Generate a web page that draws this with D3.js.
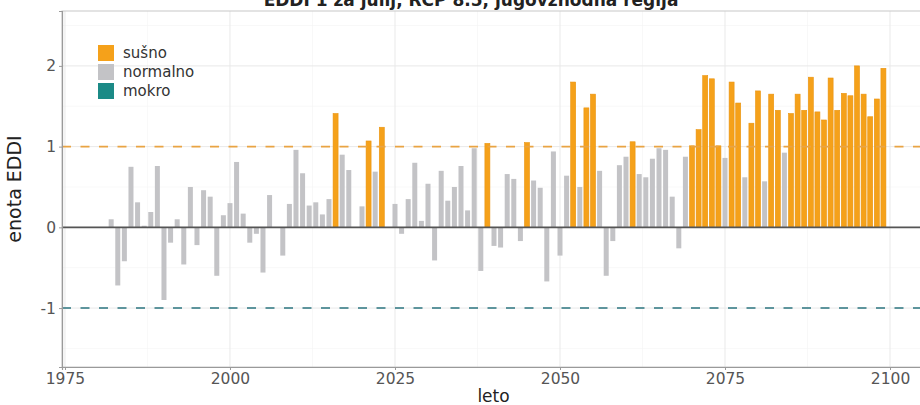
<!DOCTYPE html>
<html>
<head>
<meta charset="utf-8">
<script src="https://cdn.jsdelivr.net/npm/d3@7"></script>
<style>
  html, body { margin: 0; padding: 0; background: #fff; }
  svg { display: block; }
  text { font-family: "DejaVu Sans", sans-serif; }
</style>
</head>
<body>
<svg id="chart" width="920" height="405"></svg>
<script>
// EDDI values for July, one per year
const firstYear = 1982;
const lastYear = 2099;
const years = d3.range(firstYear, lastYear + 1);
const eddi = [
  0.10, -0.72, -0.42, 0.75, 0.31, 0.02, 0.19, 0.76, -0.90, -0.19,   // 1982-1991
  0.10, -0.46, 0.50, -0.22, 0.46, 0.38, -0.60, 0.15, 0.30, 0.81,    // 1992-2001
  0.17, -0.19, -0.08, -0.56, 0.40, 0.00, -0.35, 0.29, 0.96, 0.67,   // 2002-2011
  0.27, 0.31, 0.16, 0.35, 1.41, 0.90, 0.71, 0.00, 0.26, 1.07,       // 2012-2021
  0.69, 1.24, 0.00, 0.29, -0.08, 0.35, 0.80, 0.08, 0.54, -0.41,     // 2022-2031
  0.70, 0.33, 0.50, 0.76, 0.21, 0.98, -0.54, 1.04, -0.23, -0.25,    // 2032-2041
  0.66, 0.60, -0.17, 1.05, 0.58, 0.49, -0.67, 0.94, -0.35, 0.64,    // 2042-2051
  1.80, 0.50, 1.48, 1.65, 0.70, -0.60, -0.17, 0.77, 0.875, 1.06,    // 2052-2061
  0.66, 0.62, 0.85, 0.98, 0.96, 0.38, -0.26, 0.875, 1.01, 1.21,     // 2062-2071
  1.88, 1.84, 1.01, 0.86, 1.80, 1.54, 0.62, 1.29, 1.69, 0.57,       // 2072-2081
  1.65, 1.45, 0.925, 1.41, 1.65, 1.45, 1.86, 1.43, 1.33, 1.85,      // 2082-2091
  1.45, 1.66, 1.63, 2.00, 1.65, 1.37, 1.59, 1.97                    // 2092-2099
];

const classNames = ["sušno", "normalno", "mokro"];
const classColors = ["#f5a11a", "#c3c3c6", "#1b8a86"];
const thresholds = [1, -1];
const xTicks = [1975, 2000, 2025, 2050, 2075, 2100];
const yTicks = [-1, 0, 1, 2];

const titleText = "EDDI 1 za julij, RCP 8.5, jugovzhodna regija";
const xTitle = "leto";
const yTitle = "enota EDDI";

function classify(v) {
  if (v >= thresholds[0]) return classNames[0];
  if (v <= thresholds[1]) return classNames[2];
  return classNames[1];
}

const data = years.map((y, i) => ({ year: y, value: eddi[i], cls: classify(eddi[i]) }));

const svg = d3.select("#chart");
const panel = { left: 62, top: 11, right: 925, bottom: 367 };

const x = d3.scaleLinear().domain([1974.55, 2105.3]).range([panel.left, panel.right]);
const y = d3.scaleLinear().domain([-1.73, 2.68]).range([panel.bottom, panel.top]);
const color = d3.scaleOrdinal().domain(classNames).range(classColors);

// Title, sitting against the top edge
svg.append("text")
  .attr("x", 471).attr("y", 6)
  .attr("text-anchor", "middle")
  .attr("font-size", 17).attr("font-weight", "bold")
  .attr("fill", "#222")
  .text(titleText);

const g = svg.append("g");

// Grid lines: minor then major
const xMinor = [1987.5, 2012.5, 2037.5, 2062.5, 2087.5];
const yMinor = [-1.5, -0.5, 0.5, 1.5, 2.5];
g.selectAll("line.xminor").data(xMinor).join("line")
  .attr("x1", d => x(d)).attr("x2", d => x(d))
  .attr("y1", panel.top).attr("y2", panel.bottom)
  .attr("stroke", "#f3f3f3").attr("stroke-width", 0.6);
g.selectAll("line.yminor").data(yMinor).join("line")
  .attr("x1", panel.left).attr("x2", panel.right)
  .attr("y1", d => y(d)).attr("y2", d => y(d))
  .attr("stroke", "#f3f3f3").attr("stroke-width", 0.6);
g.selectAll("line.xmajor").data(xTicks).join("line")
  .attr("x1", d => x(d)).attr("x2", d => x(d))
  .attr("y1", panel.top).attr("y2", panel.bottom)
  .attr("stroke", "#e9e9e9").attr("stroke-width", 1);
g.selectAll("line.ymajor").data(yTicks).join("line")
  .attr("x1", panel.left).attr("x2", panel.right)
  .attr("y1", d => y(d)).attr("y2", d => y(d))
  .attr("stroke", "#e9e9e9").attr("stroke-width", 1);

// Panel border
g.append("rect")
  .attr("x", panel.left).attr("y", panel.top)
  .attr("width", panel.right - panel.left).attr("height", panel.bottom - panel.top)
  .attr("fill", "none").attr("stroke", "#c8c8c8").attr("stroke-width", 1);

// Bars
const barW = 5;
g.selectAll("rect.bar").data(data).join("rect")
  .attr("class", "bar")
  .attr("x", d => x(d.year) - barW / 2)
  .attr("width", barW)
  .attr("y", d => y(Math.max(0, d.value)))
  .attr("height", d => Math.abs(y(d.value) - y(0)))
  .attr("fill", d => color(d.cls))
  .attr("stroke", d => d.cls === classNames[0] ? "#ea9410" : "none")
  .attr("stroke-width", 0.6);

// Zero line
g.append("line")
  .attr("x1", panel.left).attr("x2", panel.right)
  .attr("y1", y(0)).attr("y2", y(0))
  .attr("stroke", "#555").attr("stroke-width", 1.6);

// Threshold lines
g.append("line")
  .attr("x1", panel.left).attr("x2", panel.right)
  .attr("y1", y(thresholds[0])).attr("y2", y(thresholds[0]))
  .attr("stroke", "#e9a443").attr("stroke-width", 1.6)
  .attr("stroke-dasharray", "9,9.5");
g.append("line")
  .attr("x1", panel.left).attr("x2", panel.right)
  .attr("y1", y(thresholds[1])).attr("y2", y(thresholds[1]))
  .attr("stroke", "#2d7680").attr("stroke-width", 1.6)
  .attr("stroke-dasharray", "9,9.5");

// Axes
const xAxis = d3.axisBottom(x).tickValues(xTicks).tickFormat(d3.format("d")).tickSize(3).tickPadding(3);
const yAxis = d3.axisLeft(y).tickValues(yTicks).tickFormat(d => d < 0 ? "-" + Math.abs(d) : d).tickSize(3).tickPadding(3);

const gx = svg.append("g").attr("transform", `translate(0,${panel.bottom})`).call(xAxis);
const gy = svg.append("g").attr("transform", `translate(${panel.left},0)`).call(yAxis);
[gx, gy].forEach(a => {
  a.select(".domain").attr("stroke", "#9a9a9a").attr("stroke-width", 1.2);
  a.selectAll(".tick line").attr("stroke", "#9a9a9a");
  a.selectAll(".tick text").attr("fill", "#555").attr("font-size", 15.5)
    .attr("font-family", "DejaVu Sans, sans-serif");
});

// Axis titles
svg.append("text")
  .attr("x", (panel.left + panel.right) / 2).attr("y", 402)
  .attr("text-anchor", "middle").attr("font-size", 17).attr("fill", "#222")
  .text(xTitle);
svg.append("text")
  .attr("transform", `translate(21,${(panel.top + panel.bottom) / 2}) rotate(-90)`)
  .attr("text-anchor", "middle").attr("font-size", 19).attr("fill", "#222")
  .text(yTitle);

// Legend
const legend = svg.append("g").attr("transform", "translate(98,45)");
const items = legend.selectAll("g").data(classNames).join("g")
  .attr("transform", (d, i) => `translate(0,${i * 19})`);
items.append("rect").attr("width", 16).attr("height", 16)
  .attr("fill", d => color(d));
items.append("text").attr("x", 25).attr("y", 13)
  .attr("font-size", 15).attr("fill", "#333")
  .text(d => d);
</script>
</body>
</html>
